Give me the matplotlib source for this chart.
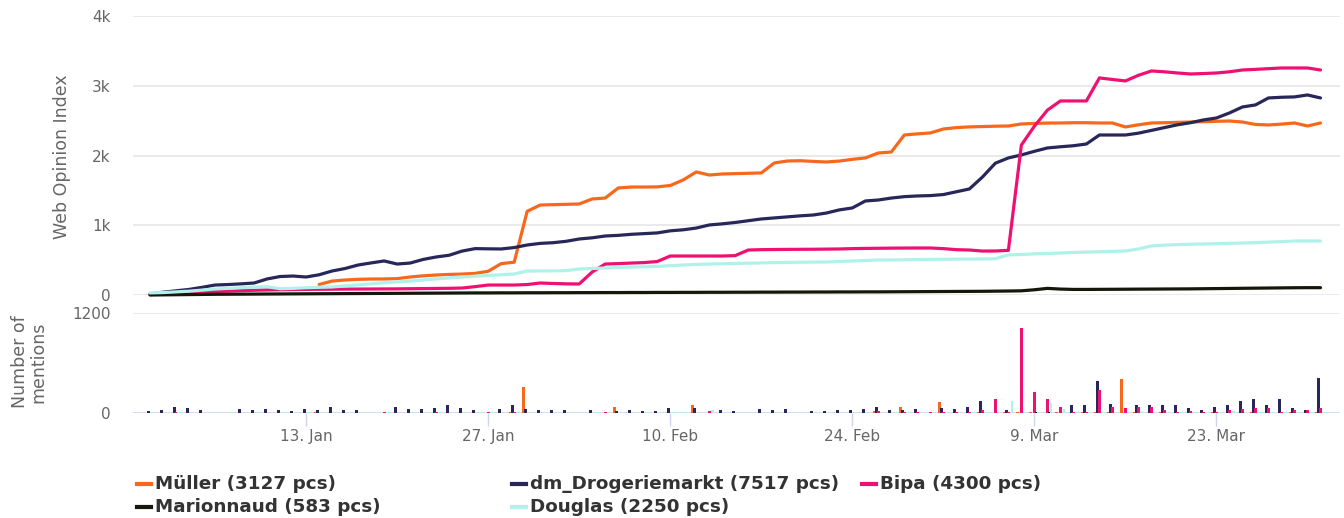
import numpy as np
import pandas as pd
import matplotlib
matplotlib.use("Agg")
import matplotlib.pyplot as plt
import matplotlib.ticker as mticker
from matplotlib.lines import Line2D

# ---- data (daily, 1 Jan - 31 Mar 2020) ----
start_date = "2020-01-01"

series_names = ["Müller", "dm_Drogeriemarkt", "Bipa", "Marionnaud", "Douglas"]
series_totals = [3127, 7517, 4300, 583, 2250]
series_colors = ["#f7681d", "#27275a", "#ee1173", "#16160a", "#b0f2ea"]

nan = np.nan
woi_muller = [nan, nan, nan, nan, nan, nan, nan, nan, nan, nan,
              nan, nan, nan, 150, 200, 215, 225, 229, 230, 235,
              258, 275, 287, 295, 300, 310, 340, 450, 470, 1200,
              1290, 1295, 1300, 1305, 1377, 1390, 1534, 1548, 1548, 1550,
              1570, 1650, 1764, 1720, 1735, 1740, 1745, 1750, 1893, 1921,
              1925, 1915, 1907, 1920, 1945, 1965, 2036, 2050, 2294, 2310,
              2323, 2380, 2400, 2410, 2415, 2420, 2423, 2452, 2460, 2465,
              2466, 2470, 2470, 2466, 2466, 2409, 2440, 2466, 2470, 2475,
              2480, 2485, 2490, 2495, 2480, 2445, 2438, 2450, 2466, 2423,
              2466]
woi_dm = [15, 40, 60, 80, 110, 143, 150, 160, 172, 230,
          265, 272, 258, 290, 344, 380, 430, 460, 488, 444,
          458, 510, 545, 570, 630, 665, 662, 660, 680, 717,
          740, 750, 770, 803, 820, 846, 855, 870, 880, 890,
          920, 935, 960, 1004, 1020, 1040, 1065, 1090, 1105, 1120,
          1135, 1147, 1175, 1220, 1248, 1348, 1362, 1390, 1410, 1420,
          1425, 1440, 1480, 1520, 1690, 1890, 1965, 2008, 2060, 2108,
          2125, 2140, 2165, 2294, 2294, 2294, 2320, 2360, 2400, 2440,
          2470, 2510, 2538, 2610, 2696, 2725, 2825, 2835, 2840, 2868,
          2825]
woi_bipa = [5, 15, 25, 35, 45, 50, 55, 62, 68, 72,
            75, 78, 80, 82, 83, 84, 85, 86, 87, 88,
            90, 92, 94, 96, 100, 120, 143, 143, 143, 150,
            172, 165, 160, 158, 330, 444, 450, 458, 465, 480,
            559, 559, 559, 559, 559, 565, 645, 650, 652, 654,
            655, 656, 658, 660, 665, 668, 670, 672, 673, 674,
            674, 665, 650, 645, 630, 631, 640, 2150, 2420, 2650,
            2782, 2782, 2782, 3112, 3090, 3069, 3150, 3212, 3200, 3183,
            3169, 3175, 3183, 3200, 3226, 3235, 3245, 3255, 3255, 3255,
            3226]
woi_marionnaud = [0, 2, 4, 6, 8, 10, 11, 12, 13, 14,
                  15, 16, 17, 18, 19, 20, 21, 22, 23, 24,
                  25, 26, 27, 28, 29, 30, 30, 31, 31, 32,
                  32, 33, 33, 34, 34, 35, 35, 36, 36, 37,
                  37, 38, 38, 39, 39, 40, 40, 41, 41, 42,
                  42, 43, 43, 44, 44, 45, 45, 46, 47, 48,
                  49, 50, 51, 52, 53, 55, 57, 60, 75, 95,
                  85, 80, 80, 81, 82, 83, 84, 85, 86, 87,
                  88, 90, 92, 94, 96, 98, 100, 102, 104, 105,
                  105]
woi_douglas = [30, 35, 45, 55, 70, 86, 95, 105, 112, 120,
               90, 95, 105, 110, 115, 130, 145, 160, 175, 186,
               200, 215, 230, 245, 258, 270, 280, 290, 301, 344,
               345, 345, 350, 373, 380, 387, 395, 400, 405, 410,
               420, 430, 438, 444, 448, 452, 456, 460, 464, 467,
               470, 472, 473, 480, 488, 495, 502, 502, 505, 508,
               510, 512, 514, 515, 516, 520, 574, 580, 590, 595,
               602, 610, 615, 620, 625, 631, 660, 703, 715, 722,
               728, 731, 735, 740, 745, 750, 758, 765, 774, 774,
               774]

men_muller = [0, 0, 0, 0, 0, 0, 0, 0, 0, 0,
              0, 0, 0, 8, 4, 4, 0, 0, 4, 0,
              4, 0, 4, 0, 4, 0, 4, 0, 8, 308,
              4, 0, 4, 0, 4, 0, 76, 0, 4, 0,
              4, 0, 96, 0, 4, 0, 0, 4, 0, 4,
              0, 4, 0, 4, 0, 4, 20, 0, 76, 4,
              0, 128, 4, 0, 8, 4, 8, 12, 8, 4,
              8, 4, 8, 8, 8, 404, 8, 4, 8, 4,
              4, 4, 8, 4, 4, 8, 4, 4, 8, 4,
              8]
men_dm = [28, 36, 76, 56, 36, 0, 0, 48, 36, 52,
          32, 20, 52, 36, 76, 40, 36, 0, 0, 76,
          52, 52, 56, 96, 56, 36, 0, 52, 92, 52,
          36, 36, 36, 0, 36, 0, 30, 36, 24, 24,
          56, 0, 56, 0, 40, 24, 0, 44, 36, 48,
          0, 20, 20, 36, 36, 52, 76, 36, 36, 52,
          0, 56, 52, 76, 148, 0, 36, 0, 0, 0,
          0, 96, 96, 384, 104, 0, 100, 100, 96, 96,
          56, 36, 76, 96, 148, 168, 96, 164, 64, 36,
          416]
men_bipa = [0, 4, 16, 4, 0, 0, 4, 0, 4, 4,
            0, 4, 0, 4, 4, 0, 4, 0, 16, 4,
            4, 0, 16, 4, 4, 4, 16, 4, 16, 4,
            4, 4, 4, 4, 4, 16, 4, 4, 4, 4,
            4, 4, 4, 20, 4, 4, 4, 4, 4, 4,
            4, 4, 4, 4, 4, 4, 20, 4, 8, 8,
            8, 8, 8, 8, 36, 164, 8, 1020, 256, 164,
            76, 8, 8, 276, 76, 56, 68, 76, 36, 8,
            28, 8, 8, 36, 44, 64, 56, 8, 36, 36,
            56]
men_marionnaud = [0, 0, 0, 4, 0, 0, 0, 0, 0, 4,
                  0, 0, 0, 0, 4, 0, 0, 0, 0, 0,
                  4, 0, 0, 0, 0, 0, 4, 0, 0, 0,
                  0, 4, 0, 0, 0, 0, 0, 4, 0, 0,
                  0, 0, 0, 0, 4, 0, 0, 0, 0, 0,
                  4, 0, 0, 0, 0, 0, 0, 4, 0, 0,
                  0, 0, 4, 0, 0, 0, 0, 0, 12, 8,
                  0, 0, 4, 0, 0, 0, 4, 0, 0, 0,
                  4, 0, 0, 0, 4, 0, 0, 4, 0, 0,
                  4]
men_douglas = [8, 4, 8, 4, 4, 16, 16, 4, 8, 4,
               16, 8, 16, 8, 4, 4, 8, 16, 16, 4,
               16, 16, 8, 4, 8, 16, 16, 4, 8, 16,
               4, 8, 8, 8, 8, 8, 4, 8, 8, 8,
               8, 16, 4, 36, 16, 8, 16, 16, 16, 16,
               16, 8, 8, 4, 8, 8, 8, 8, 8, 8,
               8, 8, 8, 8, 8, 8, 148, 16, 16, 116,
               44, 8, 16, 8, 8, 8, 28, 8, 8, 8,
               8, 8, 8, 24, 8, 8, 8, 8, 8, 8,
               8]

woi = [woi_muller, woi_dm, woi_bipa, woi_marionnaud, woi_douglas]
mentions = [men_muller, men_dm, men_bipa, men_marionnaud, men_douglas]

tick_dates = ["2020-01-13", "2020-01-27", "2020-02-10", "2020-02-24",
              "2020-03-09", "2020-03-23"]

dates = pd.date_range(start_date, periods=len(woi_dm), freq="D")
for s in woi + mentions:
    assert len(s) == len(dates)

# ---- figure ----
W, H = 1344, 518
fig = plt.figure(figsize=(W / 100, H / 100), dpi=100)

left, right = 133 / W, 1340 / W
ax1 = fig.add_axes([left, 1 - 295 / H, right - left, (295 - 16) / H])
ax2 = fig.add_axes([left, 1 - 413 / H, right - left, (413 - 313) / H], sharex=ax1)

grid_c = "#e6e6e6"
label_c = "#666666"
axis_c = "#ccd6eb"

for i, name in enumerate(series_names):
    ax1.plot(dates, woi[i], color=series_colors[i], lw=2.3, solid_capstyle="round",
             clip_on=False, zorder=3)

# grouped columns, one group per day
bar_w = 0.22
offsets = (np.arange(len(series_names)) - 2) * 0.14
for i, name in enumerate(series_names):
    ax2.bar(dates + pd.to_timedelta(offsets[i], unit="D"), mentions[i], width=bar_w,
            color=series_colors[i], linewidth=0, zorder=3)

x0 = dates[0] - pd.Timedelta(days=1.31)
x1 = dates[-1] + pd.Timedelta(days=1.5)
ax1.set_xlim(x0, x1)

ax1.set_ylim(0, 4000)
ax1.set_yticks([0, 1000, 2000, 3000, 4000])
ax1.yaxis.set_major_formatter(mticker.FuncFormatter(
    lambda v, p: "0" if v == 0 else f"{int(v / 1000)}k"))
ax2.set_ylim(0, 1200)
ax2.set_yticks([0, 1200])

for ax in (ax1, ax2):
    for sp in ax.spines.values():
        sp.set_visible(False)
    ax.grid(axis="y", color=grid_c, lw=1.2, zorder=0)
    ax.set_axisbelow(True)
    ax.tick_params(axis="y", length=0, pad=16, labelsize=11, labelcolor=label_c)

ax1.tick_params(axis="x", which="both", bottom=False, labelbottom=False)
ax2.axhline(0, color=axis_c, lw=1.2, zorder=1)
ax2.grid(axis="y", color=grid_c, lw=1.2)
ax2.yaxis.get_gridlines()[0].set_visible(False)

ax2.set_xticks(pd.to_datetime(tick_dates))
ax2.xaxis.set_major_formatter(mticker.FuncFormatter(
    lambda v, p: f"{matplotlib.dates.num2date(v).day}. {matplotlib.dates.num2date(v):%b}"))
ax2.tick_params(axis="x", length=9.5, width=1, color=axis_c, pad=2,
                labelsize=11, labelcolor=label_c)

fig.text(62 / W, 1 - 157 / H, "Web Opinion Index", rotation=90, ha="center", va="center",
         fontsize=12.5, color=label_c)
fig.text(29 / W, 1 - 362 / H, "Number of\nmentions", rotation=90, ha="center", va="center",
         fontsize=12.5, color=label_c, linespacing=1.0)

# legend, laid out like the original (3 columns, 2 rows)
col_x = [137, 512, 862]
row_y = [484, 507]
for i, name in enumerate(series_names):
    r, c = divmod(i, 3)
    xs, ys = col_x[c], row_y[r]
    fig.add_artist(Line2D([xs / W, (xs + 14) / W], [1 - ys / H, 1 - ys / H],
                          color=series_colors[i], lw=3, transform=fig.transFigure))
    fig.text((xs + 18) / W, 1 - ys / H, f"{name} ({series_totals[i]} pcs)",
             ha="left", va="center", fontsize=13.2, fontweight="bold", color="#333333")

fig.savefig("out.png", dpi=100)
